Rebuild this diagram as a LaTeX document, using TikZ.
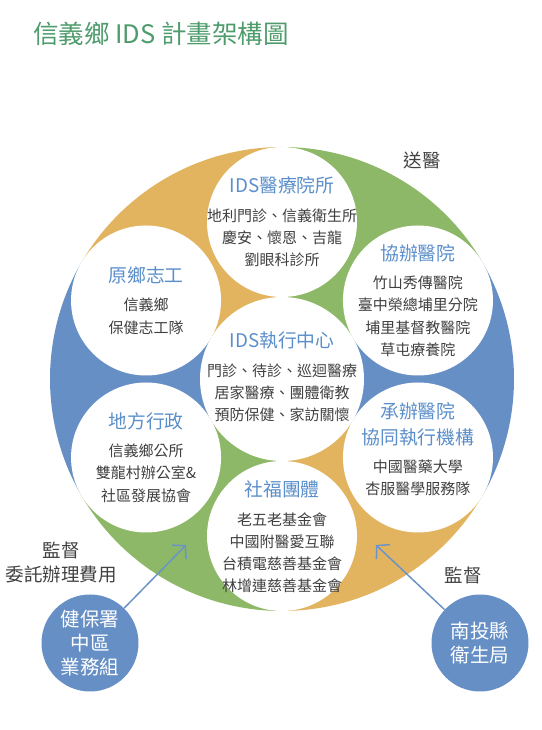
\documentclass[tikz,border=0pt]{standalone}
\usepackage{fontspec}
\setmainfont{Noto Sans CJK TC}
\usetikzlibrary{calc,arrows.meta}
\definecolor{cgreen}{HTML}{8CB867}
\definecolor{corange}{HTML}{E2B45F}
\definecolor{cblue}{HTML}{6690C5}
\definecolor{titlegreen}{HTML}{4E9C6C}
\definecolor{hblue}{HTML}{5B8FCB}
\definecolor{txtgray}{HTML}{404040}
\definecolor{arrowblue}{HTML}{6A93C8}
\newcommand{\hdg}[1]{{\color{hblue}\fontsize{18.8}{22}\selectfont #1}}
\tikzset{
  wcirc/.style={circle, fill=white, inner sep=0pt, minimum size=150pt},
  ccirc/.style={circle, fill=white, inner sep=0pt, minimum size=164pt},
  bcirc/.style={circle, fill=cblue, inner sep=0pt, minimum size=97pt, text=white,
    align=center, font=\fontsize{19.5}{24}\selectfont},
  txtblock/.style={align=center, inner sep=0pt, text=txtgray, font=\fontsize{15}{22.3}\selectfont},
  lbl/.style={align=center, inner sep=0pt, text=txtgray, font=\fontsize{18.5}{24}\selectfont},
  arr/.style={draw=arrowblue, line width=1.5pt, -{Straight Barb[length=9pt,width=20pt,line width=1.5pt]}}
}
\begin{document}
\begin{tikzpicture}[x=1pt,y=1pt]
\useasboundingbox (0,0) rectangle (541,730);
\coordinate (C) at (282,351);
% coloured ring sectors
\fill[cgreen]  (C) -- ++(30:232)  arc[start angle=30,  end angle=90,  radius=232] -- cycle;
\fill[corange] (C) -- ++(90:232)  arc[start angle=90,  end angle=150, radius=232] -- cycle;
\fill[cblue]   (C) -- ++(150:232) arc[start angle=150, end angle=210, radius=232] -- cycle;
\fill[cgreen]  (C) -- ++(210:232) arc[start angle=210, end angle=270, radius=232] -- cycle;
\fill[corange] (C) -- ++(270:232) arc[start angle=270, end angle=330, radius=232] -- cycle;
\fill[cblue]   (C) -- ++(330:232) arc[start angle=330, end angle=390, radius=232] -- cycle;
% white circles
\node[ccirc] (ctr) at (C) {};
\node[wcirc] (top) at ($(C)+(90:157)$) {};
\node[wcirc] (xb)  at ($(C)+(30:157)$) {};
\node[wcirc] (cb)  at ($(C)+(-30:157)$) {};
\node[wcirc] (sf)  at ($(C)+(-90:157)$) {};
\node[wcirc] (df)  at ($(C)+(210:157)$) {};
\node[wcirc] (yx)  at ($(C)+(150:157)$) {};
% texts in circles
\node[txtblock] (topT) at (top) {\hdg{IDS醫療院所}\\[6pt]地利門診、信義衛生所\\慶安、懷恩、吉龍\\劉眼科診所};
\node[txtblock] (ctrT) at ($(ctr)+(0,2)$) {\hdg{IDS執行中心}\\[6pt]門診、待診、巡迴醫療\\居家醫療、團體衛教\\預防保健、家訪關懷};
\node[txtblock] (yxT) at (yx) {\hdg{原鄉志工}\\[6pt]信義鄉\\保健志工隊};
\node[txtblock] (dfT) at (df) {\hdg{地方行政}\\[6pt]信義鄉公所\\雙龍村辦公室\&\\社區發展協會};
\node[txtblock] (xbT) at (xb) {\hdg{協辦醫院}\\[6pt]竹山秀傳醫院\\臺中榮總埔里分院\\埔里基督教醫院\\草屯療養院};
\node[txtblock] (cbT) at ($(cb)+(0,8)$) {\hdg{承辦醫院}\\[3pt]\hdg{協同執行機構}\\[6pt]中國醫藥大學\\杏服醫學服務隊};
\node[txtblock] (sfT) at ($(sf)+(0,-1)$) {\hdg{社福團體}\\[6pt]老五老基金會\\中國附醫愛互聯\\台積電慈善基金會\\林增連慈善基金會};
% title and labels
\node[anchor=west, inner sep=0pt, text=titlegreen, font=\fontsize{25.5}{28}\selectfont] (title) at (33,696) {信義鄉 IDS 計畫架構圖};
\node[lbl] (song) at (422,570) {送醫};
\node[lbl] (jdL) at (61,167) {監督\\委託辦理費用};
\node[lbl] (jdR) at (463,155) {監督};
% blue circles and arrows
\node[bcirc] (jb) at (90,87) {健保署\\中區\\業務組};
\node[bcirc] (nt) at (480,87) {南投縣\\衛生局};
\coordinate (tipL) at (186,185);
\coordinate (tipR) at (376,185);
\draw[arr] (jb) -- (tipL);
\draw[arr] (nt) -- (tipR);
\end{tikzpicture}
\end{document}
